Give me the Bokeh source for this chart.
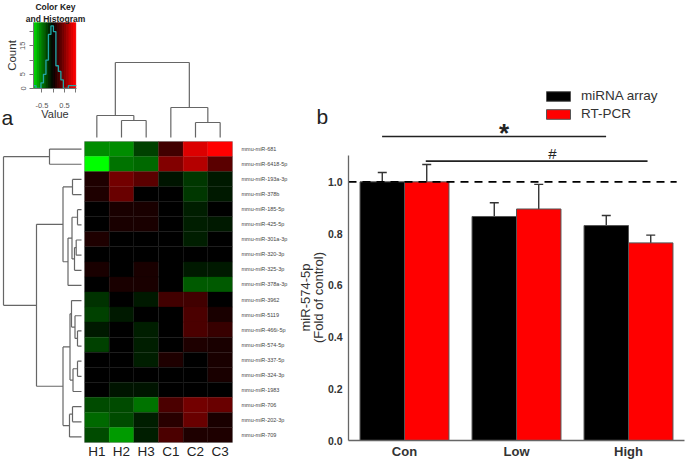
import math
from bokeh.plotting import figure
from bokeh.models import (Range1d, FactorRange, FixedTicker, Label, Whisker, TeeHead, ColumnDataSource,
                          LinearColorMapper, Legend, LegendItem)
from bokeh.embed import file_html
from bokeh.resources import INLINE

samples = ["H1", "H2", "H3", "C1", "C2", "C3"]
mirnas = ["mmu-miR-681", "mmu-miR-6418-5p", "mmu-miR-193a-3p", "mmu-miR-378b", "mmu-miR-185-5p",
          "mmu-miR-425-5p", "mmu-miR-301a-3p", "mmu-miR-320-3p", "mmu-miR-325-3p", "mmu-miR-378a-3p",
          "mmu-miR-3962", "mmu-miR-5119", "mmu-miR-466i-5p", "mmu-miR-574-5p", "mmu-miR-337-5p",
          "mmu-miR-324-3p", "mmu-miR-1983", "mmu-miR-706", "mmu-miR-202-3p", "mmu-miR-709"]
heat_values = [
    [-.55, -.55, -.25, .25, .85, 1.0],
    [-1.0, -.45, -.40, .50, .70, .35],
    [.12, .45, .35, -.08, -.22, -.10],
    [.12, .40, 0, 0, -.22, -.10],
    [0, .10, .10, 0, -.12, 0],
    [0, .10, .10, 0, -.12, -.10],
    [.12, 0, 0, 0, -.12, 0],
    [0, 0, 0, 0, 0, 0],
    [.10, 0, .10, 0, -.10, -.10],
    [0, .10, .10, 0, -.35, -.35],
    [-.20, 0, -.10, .25, .25, 0],
    [-.25, -.10, 0, 0, .30, .10],
    [-.10, 0, -.12, 0, .30, .22],
    [-.25, 0, -.12, 0, .12, .10],
    [0, 0, -.12, .12, 0, .10],
    [0, 0, 0, 0, 0, .10],
    [0, -.08, -.08, 0, 0, 0],
    [-.30, -.30, -.45, .30, .45, .40],
    [-.40, -.30, -.12, .15, .40, .10],
    [-.30, -.60, -.12, .30, .12, .12],
]
top_merges = [(1, 2, 17), (0, 6, 22), (4, 5, 15), (3, 8, 30), (7, 9, 75)]
left_merges = [(0, 1, 32), (2, 3, 9), (4, 5, 4), (6, 7, 5.3), (23, 8, 7), (22, 24, 9.5), (25, 9, 13.5),
               (21, 26, 18.5), (14, 15, 4), (28, 16, 8.5), (12, 13, 4), (11, 30, 6.5), (10, 31, 10),
               (32, 29, 11.5), (17, 18, 9), (34, 19, 12), (33, 35, 18.5), (27, 36, 45), (20, 37, 78)]
hist_edges = [-.87, -.76, -.65, -.54, -.43, -.32, -.21, -.10, .01, .12, .23, .34, .45, .56, .67, .78, .89, 1.03]
hist_counts = [1, 0, 0, 2, 5, 10, 19, 22, 20, 8, 6, 3, 0, 0, 1, 1, 1]
key_bins = [-.85 + .1 * i for i in range(19)]

groups = [1, 2, 3]
group_names = ["Con", "Low", "High"]
array_values = [1.0, 0.866, 0.831]
array_upper = [1.036, 0.919, 0.870]
pcr_values = [1.0, 0.895, 0.764]
pcr_upper = [1.067, 0.990, 0.794]

palette = ["#%02x%02x00" % (0, 255 - i) for i in range(0, 255, 5)] + \
          ["#%02x0000" % i for i in range(0, 256, 5)]
mapper = LinearColorMapper(palette=palette, low=-1, high=1)
FONT = "Liberation Sans"


def place(p, left, top):
    p.styles = {"position": "absolute", "left": f"{left}px", "top": f"{top}px"}


def tree(merges, n):
    pos = {i: i + .5 for i in range(n)}
    hgt = {i: 0 for i in range(n)}
    p0, p1, h0, h1 = [], [], [], []
    for k, (a, b, h) in enumerate(merges):
        p0 += [pos[a], pos[b], pos[a]]
        p1 += [pos[a], pos[b], pos[b]]
        h0 += [hgt[a], hgt[b], h]
        h1 += [h, h, h]
        pos[n + k] = (pos[a] + pos[b]) / 2
        hgt[n + k] = h
    return p0, p1, h0, h1


def bare(p):
    p.axis.visible = False
    p.grid.visible = False
    p.outline_line_color = None
    p.background_fill_color = None
    p.border_fill_color = None


# Colour key
key = figure(width=84, height=141, min_border_left=33, min_border_right=8, min_border_top=22, min_border_bottom=53,
             x_range=Range1d(-.87, 1.03), y_range=Range1d(0, 23.2), toolbar_location=None, output_backend="svg")
key.grid.visible = False
key.outline_line_color = None
key.border_fill_color = None
key.rect(x="x", y=11.6, width=.1, height=23.2, fill_color={"field": "x", "transform": mapper},
         line_color={"field": "x", "transform": mapper}, source=ColumnDataSource(dict(x=key_bins)))
key.step(hist_edges, hist_counts + [hist_counts[-1]], mode="after", line_color="#20a8a8", line_width=1.3)
key.xaxis.ticker = FixedTicker(ticks=[-.5, 0, .5, 1])
key.xaxis.major_label_overrides = {-.5: "-0.5", 0: "", .5: "0.5", 1: ""}
key.xaxis.major_label_text_font_size = "7.5px"
key.xaxis.major_label_text_color = "#555555"
key.xaxis.major_label_text_font = FONT
key.xaxis.major_label_standoff = 10
key.xaxis.axis_label = "Value"
key.xaxis.axis_label_text_font_size = "11px"
key.xaxis.axis_label_text_font_style = "normal"
key.xaxis.axis_label_text_font = FONT
key.xaxis.axis_label_text_color = "#333333"
key.xaxis.axis_label_standoff = -3
key.yaxis.ticker = FixedTicker(ticks=[0, 5, 10, 15, 20])
key.yaxis.major_label_overrides = {0: "0", 5: "5", 10: "", 15: "15", 20: ""}
key.yaxis.major_label_orientation = "vertical"
key.yaxis.major_label_text_font_size = "7.5px"
key.yaxis.major_label_text_color = "#555555"
key.yaxis.major_label_text_font = FONT
key.yaxis.major_label_standoff = 4
key.yaxis.axis_label = "Count"
key.yaxis.axis_label_text_font_size = "11.5px"
key.yaxis.axis_label_text_font_style = "normal"
key.yaxis.axis_label_text_font = FONT
key.yaxis.axis_label_text_color = "#333333"
key.yaxis.axis_label_standoff = 0
for ax in (key.xaxis, key.yaxis):
    ax.axis_line_color = "#777777"
    ax.major_tick_line_color = "#777777"
    ax.major_tick_out = 4
    ax.major_tick_in = 0
    ax.minor_tick_line_color = None
place(key, 0, 0)

# Top dendrogram
top = figure(width=148, height=81, min_border_left=0, min_border_right=0, min_border_top=0, min_border_bottom=0,
             x_range=Range1d(0, 6), y_range=Range1d(-4, 77), toolbar_location=None, output_backend="svg")
bare(top)
a0, a1, b0, b1 = tree(top_merges, 6)
top.segment(a0, b0, a1, b1, line_color="#666666", line_width=1.2)
place(top, 84, 60)

# Left dendrogram
left = figure(width=84, height=303, min_border_left=0, min_border_right=0, min_border_top=0, min_border_bottom=0,
              x_range=Range1d(81, -3), y_range=Range1d(20, 0), toolbar_location=None, output_backend="svg")
bare(left)
a0, a1, b0, b1 = tree(left_merges, 20)
left.segment(b0, a0, b1, a1, line_color="#666666", line_width=1.2)
place(left, 0, 141)

# Heatmap
xs, ys, vs = [], [], []
for name, vals in zip(mirnas, heat_values):
    for s, v in zip(samples, vals):
        xs.append(s)
        ys.append(name)
        vs.append(v)
heat = figure(width=211, height=320, min_border_left=0, min_border_right=63, min_border_top=0, min_border_bottom=17,
              x_range=FactorRange(factors=samples), y_range=FactorRange(factors=mirnas[::-1]),
              y_axis_location="right", toolbar_location=None, output_backend="svg")
heat.grid.visible = False
heat.outline_line_color = "#aaaaaa"
heat.border_fill_color = None
heat.rect(x="x", y="y", width=1, height=1, fill_color={"field": "v", "transform": mapper},
          line_color={"field": "v", "transform": mapper}, line_width=.3,
          source=ColumnDataSource(dict(x=xs, y=ys, v=vs)))
heat.xaxis.major_label_text_font_size = "13.5px"
heat.xaxis.major_label_text_font = FONT
heat.xaxis.major_label_text_color = "#222222"
heat.xaxis.major_label_standoff = 1
heat.yaxis.major_label_text_font_size = "5.5px"
heat.yaxis.major_label_text_font = FONT
heat.yaxis.major_label_text_color = "#444444"
heat.yaxis.major_label_standoff = 9
for ax in (heat.xaxis, heat.yaxis):
    ax.axis_line_color = None
    ax.major_tick_line_color = None
    ax.minor_tick_line_color = None
    ax.major_tick_out = 0
    ax.major_tick_in = 0
    ax.minor_tick_out = 0
    ax.minor_tick_in = 0
place(heat, 84, 141)

# Bars
bars = figure(width=390, height=461, min_border_left=53, min_border_right=1, min_border_top=52, min_border_bottom=19,
              x_range=Range1d(.5, 3.5), y_range=Range1d(0, 1.5), toolbar_location=None, output_backend="svg")
bars.grid.visible = False
bars.outline_line_color = None
bars.border_fill_color = None
bw = .397
r1 = bars.vbar(x=[g - bw / 2 for g in groups], top=array_values, width=bw, fill_color="black", line_color="#555555")
r2 = bars.vbar(x=[g + bw / 2 for g in groups], top=pcr_values, width=bw, fill_color="#ff0000", line_color="#555555")
for off, vals, ups in ((-bw / 2, array_values, array_upper), (bw / 2, pcr_values, pcr_upper)):
    src = ColumnDataSource(dict(x=[g + off for g in groups], lo=vals, up=ups))
    bars.add_layout(Whisker(source=src, base="x", lower="lo", upper="up", lower_head=None,
                            upper_head=TeeHead(size=9, line_color="#333333", line_width=1.4),
                            line_color="#333333", line_width=1.4))
bars.segment([.5], [1], [3.43], [1], line_color="black", line_width=1.6, line_dash="8 6")
bars.segment([.80], [1.175], [2.80], [1.175], line_color="#222222", line_width=1.6)
bars.segment([1.19], [1.08], [3.17], [1.08], line_color="#222222", line_width=1.6)
bars.add_layout(Label(x=1.89, y=1.19, text="*", text_font=FONT, text_font_size="26px", text_font_style="bold",
                      text_align="center", text_baseline="middle", text_color="#222222"))
bars.add_layout(Label(x=2.32, y=1.11, text="#", text_font=FONT, text_font_size="15px",
                      text_align="center", text_baseline="middle", text_color="#222222"))
legend = Legend(items=[LegendItem(label="miRNA array", renderers=[r1]), LegendItem(label="RT-PCR", renderers=[r2])],
                location=(195, 319), glyph_width=30, glyph_height=12, label_height=12, spacing=3, padding=0, margin=0,
                label_standoff=8, border_line_color=None, background_fill_color=None,
                label_text_font=FONT, label_text_font_size="13.5px", label_text_color="#333333")
bars.add_layout(legend)
bars.xaxis.ticker = FixedTicker(ticks=groups)
bars.xaxis.major_label_overrides = dict(zip(groups, group_names))
bars.xaxis.major_label_text_font = FONT
bars.xaxis.major_label_text_font_size = "13px"
bars.xaxis.major_label_text_font_style = "bold"
bars.xaxis.major_label_text_color = "#333333"
bars.xaxis.major_label_standoff = 3
bars.xaxis.major_tick_out = 0
bars.xaxis.major_tick_in = 0
bars.xaxis.minor_tick_out = 0
bars.xaxis.minor_tick_in = 0
bars.yaxis.bounds = (0, 1.1)
bars.yaxis.ticker = FixedTicker(ticks=[0, .2, .4, .6, .8, 1.0], minor_ticks=[.1, .3, .5, .7, .9, 1.1])
bars.yaxis.major_label_overrides = {0: "0.0", .2: "0.2", .4: "0.4", .6: "0.6", .8: "0.8", 1: "1.0"}
bars.yaxis.major_label_text_font = FONT
bars.yaxis.major_label_text_font_size = "10.5px"
bars.yaxis.major_label_text_font_style = "bold"
bars.yaxis.major_label_text_color = "#333333"
bars.yaxis.major_label_standoff = 2
bars.yaxis.major_tick_in = 0
bars.yaxis.major_tick_out = 4
bars.yaxis.minor_tick_in = 0
bars.yaxis.minor_tick_out = 2
for ax in (bars.xaxis, bars.yaxis):
    ax.axis_line_color = "#666666"
    ax.axis_line_width = 1.3
    ax.major_tick_line_color = "#666666" if ax is bars.yaxis else None
    ax.minor_tick_line_color = "#666666" if ax is bars.yaxis else None
place(bars, 295, 0)

# Loose captions, in one transparent layer over the whole page
notes = figure(width=685, height=461, min_border_left=0, min_border_right=0, min_border_top=0, min_border_bottom=0,
               x_range=Range1d(0, 685), y_range=Range1d(461, 0), toolbar_location=None, output_backend="svg")
bare(notes)
notes.scatter([0], [0], size=0, alpha=0)


def text(s, x, y, size, bold=False, color="#222222", align="left", angle=0):
    notes.add_layout(Label(x=x, y=y, text=s, text_font=FONT, text_font_size=f"{size}px", text_color=color,
                           text_align=align, angle=angle, text_baseline="middle",
                           text_font_style="bold" if bold else "normal"))


text("Color Key", 55, 6, 8.5, bold=True, align="center")
text("and Histogram", 55, 18, 8.5, bold=True, align="center")
text("a", 1, 117, 21)
text("b", 316, 116, 21)
text("miR-574-5p", 305, 297, 13, color="#333333", align="center", angle=math.pi / 2)
text("(Fold of control)", 318, 297, 13, color="#333333", align="center", angle=math.pi / 2)
place(notes, 0, 0)

open("out.html", "w").write(file_html([bars, top, left, heat, key, notes], INLINE))
